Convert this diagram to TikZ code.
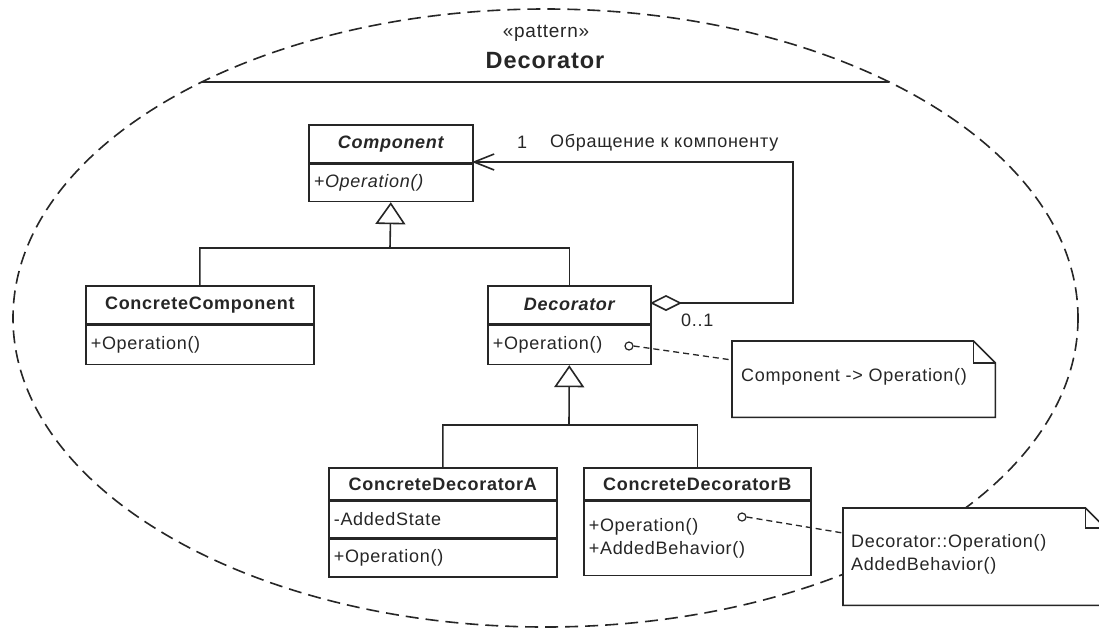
\documentclass[tikz,border=0pt]{standalone}
\usepackage{fontspec}
\setmainfont{Liberation Sans}[LetterSpace=4]
\usetikzlibrary{arrows.meta}
\definecolor{ink}{HTML}{262626}
\begin{document}
\begin{tikzpicture}[x=1pt,y=-1pt,
  font=\fontsize{18}{23}\selectfont,
  every node/.style={text=ink},
  box/.style={draw=ink, line width=1.6pt, fill=white, inner xsep=5pt, inner ysep=0pt, anchor=north west},
  namebox/.style={box, align=center},
  opsbox/.style={box, align=left},
  conn/.style={draw=ink, line width=1.6pt},
  gen/.style={conn, -{Triangle[open,length=22pt,width=30pt]}},
  notedash/.style={draw=ink, line width=1.3pt, dash pattern=on 6pt off 4pt},
  noteshape/.style={draw=ink, line width=1.6pt, fill=white},
  anchorcirc/.style={circle, draw=ink, line width=1.2pt, fill=white, inner sep=0pt, minimum size=8pt},
  label/.style={inner sep=0pt}
]
\useasboundingbox (0,0) rectangle (1099,632);
\clip (0,0) rectangle (1099,632);
\fill[white] (0,0) rectangle (1099,632);

% package ellipse
\draw[ink, line width=1.6pt, dash pattern=on 13pt off 7pt] (545.5,318) ellipse [x radius=532.5, y radius=309];
\coordinate (tl) at (202,82);
\coordinate (tr) at (889,82);
\draw[ink, line width=2.2pt] (tl) -- (tr);
\node[label, font=\fontsize{19}{23}\selectfont] (stereo) at (546,33) {«pattern»};
\node[label, font=\fontsize{23.5}{27}\selectfont\bfseries] (ptitle) at (545,61) {Decorator};

% Component
\node[namebox, text width=154pt, minimum height=38pt] (compN) at (308,124) {\bfseries\itshape Component};
\node[opsbox, text width=154pt, minimum height=37pt] (compO) at (compN.south west) {\itshape +Operation()};

% ConcreteComponent
\node[namebox, text width=218pt, minimum height=38pt] (ccN) at (85,285) {\bfseries ConcreteComponent};
\node[opsbox, text width=218pt, minimum height=39pt] (ccO) at (ccN.south west) {+Operation()};

% Decorator
\node[namebox, text width=153pt, minimum height=38pt] (decN) at (487,285) {\bfseries\itshape Decorator};
\node[opsbox, text width=153pt, minimum height=39pt] (decO) at (decN.south west) {+Operation()};

% ConcreteDecoratorA
\node[namebox, text width=218pt, minimum height=32pt] (cdaN) at (328,467) {\bfseries ConcreteDecoratorA};
\node[opsbox, text width=218pt, minimum height=36pt] (cdaA) at (cdaN.south west) {-AddedState};
\node[opsbox, text width=218pt, minimum height=38pt] (cdaO) at (cdaA.south west) {+Operation()};

% ConcreteDecoratorB
\node[namebox, text width=217pt, minimum height=32pt] (cdbN) at (583,467) {\bfseries ConcreteDecoratorB};
\node[opsbox, text width=217pt, minimum height=74pt] (cdbO) at (cdbN.south west) {+Operation()\\+AddedBehavior()};

% generalizations
\coordinate (j1) at (390,248);
\draw[gen] (ccN.north) |- (j1) -- (compO.south);
\draw[conn] (decN.north) |- (j1);
\coordinate (j2) at (569,425);
\draw[gen] (cdaN.north) |- (j2) -- (decO.south);
\draw[conn] (cdbN.north) |- (j2);

% aggregation Decorator -> Component
\coordinate (aggR) at (650,303);
\coordinate (bendA) at (793,303);
\coordinate (bendB) at (793,162);
\coordinate (compR) at (472,162);
\draw[conn, {Diamond[open,length=32pt,width=16pt]}-{Straight Barb[length=20pt,width=16pt]}] (aggR) -- (bendA) -- (bendB) -- (compR);
\node[label] (mult1) at (522,142) {1};
\node[label, anchor=west] (role) at (550,143) {Обращение к компоненту};
\node[label, anchor=west] (mult01) at (681,320) {0..1};

% note 1
\node[inner sep=0pt, minimum width=263pt, minimum height=76pt, anchor=north west] (n1) at (732,341) {};
\draw[noteshape] (n1.north west) -- ([xshift=-22pt]n1.north east) -- ([yshift=-22pt]n1.north east) -- (n1.south east) -- (n1.south west) -- cycle;
\draw[ink, line width=1.6pt] ([xshift=-22pt]n1.north east) |- ([yshift=-22pt]n1.north east);
\node[label, anchor=west] (n1t) at (741,377) {Component -> Operation()};
\node[anchorcirc] (c1) at (629,346) {};
\coordinate (n1in) at (732,360);
\draw[notedash] (c1.east) -- (n1in);

% note 2
\node[inner sep=0pt, minimum width=262pt, minimum height=97pt, anchor=north west] (n2) at (843,508) {};
\draw[noteshape] (n2.north west) -- ([xshift=-20pt]n2.north east) -- ([yshift=-20pt]n2.north east) -- (n2.south east) -- (n2.south west) -- cycle;
\draw[ink, line width=1.6pt] ([xshift=-20pt]n2.north east) |- ([yshift=-20pt]n2.north east);
\node[label, anchor=west, align=left] (n2t) at (851,554) {Decorator::Operation()\\AddedBehavior()};
\node[anchorcirc] (c2) at (742,517) {};
\coordinate (n2in) at (843,533);
\draw[notedash] (c2.east) -- (n2in);
\end{tikzpicture}
\end{document}
